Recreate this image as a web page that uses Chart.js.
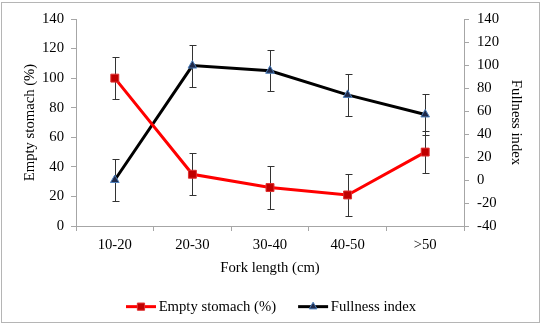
<!DOCTYPE html>
<html>
<head>
<meta charset="utf-8">
<script src="https://cdn.jsdelivr.net/npm/chart.js@4.4.0/dist/chart.umd.min.js"></script>
<style>
  body { margin: 0; background: #fff; }
  #wrap { width: 542px; height: 325px; }
</style>
</head>
<body>
<div id="wrap"><canvas id="chart" width="542" height="325"></canvas></div>
<script>
const categories = ['10-20', '20-30', '30-40', '40-50', '>50'];
const emptyStomach = [100, 35, 26, 21, 50];
const emptyStomachErr = [14.4, 14.3, 14.4, 14.4, 14.2];
const fullness = [0, 99.5, 95, 74, 57];
const fullnessErr = [18, 18.2, 18, 18.2, 18];
const leftTicks = [0, 20, 40, 60, 80, 100, 120, 140];
const rightTicks = [-40, -20, 0, 20, 40, 60, 80, 100, 120, 140];

const serif = 'Liberation Serif, Times New Roman, serif';
const axisGray = '#a6a6a6';

// error bars, drawn behind the markers
const errorBars = {
  id: 'errorBars',
  beforeDatasetsDraw(chart) {
    const ctx = chart.ctx;
    ctx.save();
    ctx.strokeStyle = '#333';
    ctx.lineWidth = 1;
    chart.data.datasets.forEach((ds, i) => {
      const meta = chart.getDatasetMeta(i);
      const yScale = chart.scales[ds.yAxisID];
      meta.data.forEach((pt, j) => {
        const x = Math.round(pt.x) + 0.5;
        const yTop = Math.round(yScale.getPixelForValue(ds.data[j] + ds.errors[j])) + 0.5;
        const yBot = Math.round(yScale.getPixelForValue(ds.data[j] - ds.errors[j])) + 0.5;
        ctx.beginPath();
        ctx.moveTo(x, yTop); ctx.lineTo(x, yBot);
        ctx.moveTo(x - 3, yTop); ctx.lineTo(x + 4, yTop);
        ctx.moveTo(x - 3, yBot); ctx.lineTo(x + 4, yBot);
        ctx.stroke();
      });
    });
    ctx.restore();
  }
};

// legend line + marker samples, and the outer frame
const extras = {
  id: 'extras',
  afterDraw(chart) {
    const ctx = chart.ctx;
    chart.legend.legendHitBoxes.forEach((box, i) => {
      const ds = chart.data.datasets[i];
      const cy = box.top + box.height / 2;
      ctx.save();
      ctx.strokeStyle = ds.borderColor;
      ctx.lineWidth = 3;
      ctx.beginPath();
      ctx.moveTo(box.left, cy);
      ctx.lineTo(box.left + 30, cy);
      ctx.stroke();
      ctx.restore();
      ctx.fillStyle = ds.pointBackgroundColor;
      ctx.strokeStyle = ds.pointBorderColor;
      ctx.lineWidth = ds.pointBorderWidth;
      Chart.helpers.drawPoint(ctx, {
        pointStyle: ds.pointStyle,
        radius: ds.pointRadius - 0.5,
        borderWidth: ds.pointBorderWidth
      }, box.left + 15, cy);
    });
    ctx.save();
    ctx.strokeStyle = '#b5b5b5';
    ctx.lineWidth = 1;
    ctx.strokeRect(1.5, 2.5, 538, 320);
    ctx.restore();
  }
};

new Chart(document.getElementById('chart'), {
  type: 'line',
  data: {
    labels: categories,
    datasets: [
      {
        label: 'Empty stomach (%)',
        data: emptyStomach,
        errors: emptyStomachErr,
        yAxisID: 'y',
        borderColor: '#ff0000',
        backgroundColor: '#ff0000',
        borderWidth: 3,
        pointStyle: 'rect',
        pointRadius: 5.6,
        pointBackgroundColor: '#c00000',
        pointBorderColor: '#e03030',
        pointBorderWidth: 1,
        tension: 0
      },
      {
        label: 'Fullness index',
        data: fullness,
        errors: fullnessErr,
        yAxisID: 'y2',
        borderColor: '#000000',
        backgroundColor: '#000000',
        borderWidth: 3,
        pointStyle: 'triangle',
        pointRadius: 5,
        pointBackgroundColor: '#1f2a4a',
        pointBorderColor: '#4f81bd',
        pointBorderWidth: 1,
        tension: 0
      }
    ]
  },
  options: {
    responsive: false,
    animation: false,
    layout: { padding: { top: 19, bottom: 1, left: 0, right: 0 } },
    plugins: {
      tooltip: { enabled: false },
      legend: {
        position: 'bottom',
        labels: {
          boxWidth: 25.3,
          boxHeight: 3,
          padding: 22,
          color: '#000',
          font: { family: serif, size: 14.7 },
          generateLabels(chart) {
            return chart.data.datasets.map((ds, i) => ({
              text: ds.label,
              fillStyle: 'rgba(0,0,0,0)',
              strokeStyle: 'rgba(0,0,0,0)',
              lineWidth: 0,
              datasetIndex: i,
              fontColor: '#000'
            }));
          }
        }
      }
    },
    scales: {
      x: {
        offset: true,
        afterFit(scale) { scale.height = 51.3; },
        grid: { offset: true, drawOnChartArea: false, color: axisGray, tickLength: 5 },
        border: { color: axisGray },
        ticks: { color: '#000', padding: 5, font: { family: serif, size: 14.7 } },
        title: { display: true, text: 'Fork length (cm)', color: '#000', padding: 0.6, font: { family: serif, size: 14.7 } }
      },
      y: {
        position: 'left',
        min: 0,
        max: 140,
        afterBuildTicks(scale) { scale.ticks = leftTicks.map(v => ({ value: v })); },
        afterFit(scale) { scale.width = 76; },
        grid: { drawOnChartArea: false, color: axisGray, tickLength: 5 },
        border: { color: axisGray },
        ticks: { color: '#000', padding: 7, font: { family: serif, size: 14.7 } },
        title: { display: true, text: 'Empty stomach (%)', color: '#000', padding: 21.7, font: { family: serif, size: 14.7 } }
      },
      y2: {
        position: 'right',
        min: -40,
        max: 140,
        afterBuildTicks(scale) { scale.ticks = rightTicks.map(v => ({ value: v })); },
        afterFit(scale) { scale.width = 78; },
        grid: { drawOnChartArea: false, color: axisGray, tickLength: 5 },
        border: { color: axisGray },
        ticks: { color: '#000', padding: 8, font: { family: serif, size: 14.7 } },
        title: { display: true, text: 'Fullness index', color: '#000', padding: 17.6, font: { family: serif, size: 14.7 } }
      }
    }
  },
  plugins: [errorBars, extras]
});
</script>
</body>
</html>
